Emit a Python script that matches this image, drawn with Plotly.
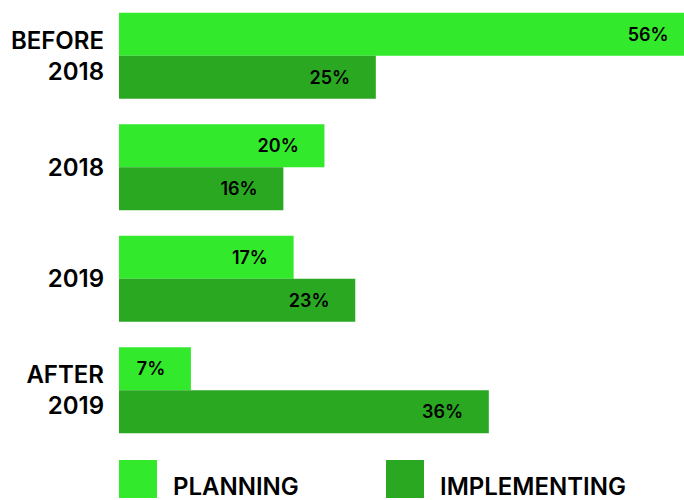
import plotly.graph_objects as go

categories = ["BEFORE<br>2018", "2018", "2019", "AFTER<br>2019"]
series_names = ["PLANNING", "IMPLEMENTING"]
planning = [56, 20, 17, 7]
implementing = [25, 16, 23, 36]
colors = ["#33E92C", "#2AA822"]

W, H = 684, 500
ML, MR, MT, MB = 119, 0, 0, 54
PAD = "\u00a0" * 5

fig = go.Figure()
for name, vals, col in zip(series_names, [planning, implementing], colors):
    fig.add_trace(go.Bar(
        y=categories, x=vals, name=name, orientation="h",
        marker=dict(color=col, line=dict(width=0)),
        text=[f"{v}%{PAD}" for v in vals],
        textposition="inside", insidetextanchor="end",
        textfont=dict(family="Inter", size=18, color="#000000", weight=600),
        constraintext="none",
        showlegend=False,
    ))

# custom legend with large squares
pw = W - ML - MR
ph = H - MT - MB
legend_x = [119, 386]
for name, col, lx in zip(series_names, colors, legend_x):
    fig.add_shape(type="rect", xref="paper", yref="paper",
                  x0=(lx - ML) / pw, x1=(lx + 38 - ML) / pw,
                  y0=(H - MB - 498) / ph, y1=(H - MB - 460) / ph,
                  fillcolor=col, line=dict(width=0))
    fig.add_annotation(xref="paper", yref="paper",
                       x=(lx + 52 - ML) / pw, y=(H - MB - 486) / ph,
                       xanchor="left", yanchor="middle", showarrow=False,
                       text=name,
                       font=dict(family="Inter", size=24, color="#000000", weight=600))

fig.update_layout(
    width=W, height=H,
    margin=dict(l=ML, r=MR, t=MT, b=MB, pad=0),
    barmode="group", bargap=0.23, bargroupgap=0,
    plot_bgcolor="#ffffff", paper_bgcolor="#ffffff",
    uniformtext=dict(mode=False),
)
fig.update_xaxes(range=[0, 55], visible=False, showgrid=False, zeroline=False)
fig.update_yaxes(autorange="reversed", showgrid=False, zeroline=False, ticks="",
                 ticklabelstandoff=14, showline=False,
                 tickfont=dict(family="Inter", size=24, color="#000000", weight=600))
fig.write_html("out.html")
